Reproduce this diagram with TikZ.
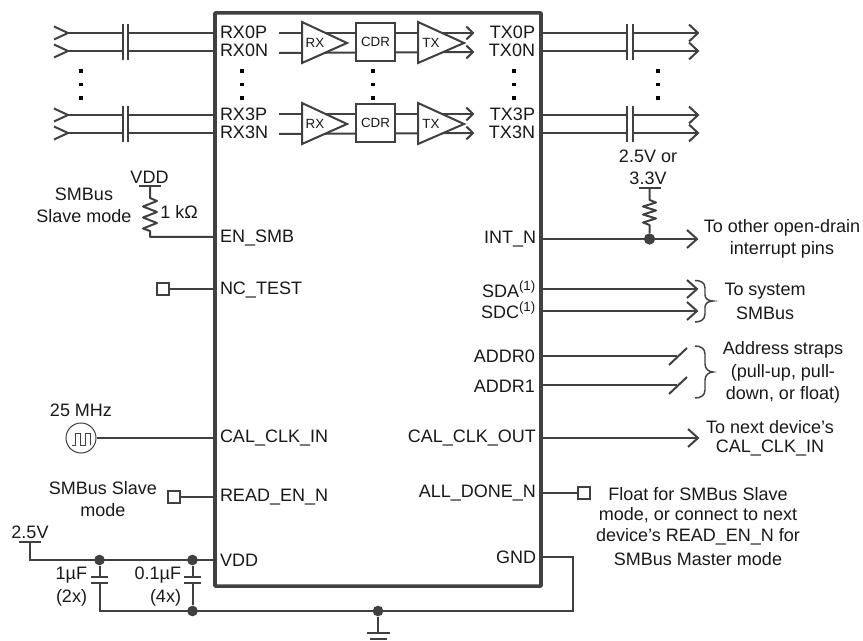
\documentclass[tikz,border=0pt]{standalone}
\usepackage{fontspec}
\setmainfont{Liberation Sans}
\definecolor{ln}{HTML}{404040}
\tikzset{
  wire/.style={draw=ln,line width=1.5pt,line join=miter},
  thin wire/.style={draw=ln,line width=1.1pt},
  chipbox/.style={draw=ln,line width=2.7pt,fill=white,rectangle,rounded corners=0.6pt,inner sep=0,minimum width=244.5pt,minimum height=430pt},
  txt/.style={inner sep=0,outer sep=0,font=\fontsize{13.5}{15}\selectfont,text=black!90,align=center},
  pinl/.style={txt,anchor=west},
  pinr/.style={txt,anchor=east},
  small/.style={inner sep=0,outer sep=0,font=\fontsize{10}{12}\selectfont,text=black!90},
  amp/.style={draw=ln,line width=1.5pt,fill=white,line join=miter},
  cdrbox/.style={draw=ln,line width=1.5pt,fill=white,rectangle,inner sep=0,minimum width=29.5pt,minimum height=28.5pt,font=\fontsize{10}{12}\selectfont,text=black!90},
  testpad/.style={draw=ln,line width=1.5pt,fill=white,rectangle,inner sep=0,minimum width=9pt,minimum height=9pt},
  junction/.style={circle,fill=ln,inner sep=0,minimum size=8pt},
  dotmark/.style={fill=black,rectangle,inner sep=0,minimum size=2.6pt},
  osc/.style={circle,draw=ln,line width=0.75pt,fill=white,inner sep=0,minimum size=22.5pt}
}
\begin{document}
\begin{tikzpicture}[x=0.75pt,y=-0.75pt]
\useasboundingbox (0,0) rectangle (863,641);
\node[chipbox] (chip) at (378,299.5) {};

% high speed rows
\foreach \n/\y/\t in {a/33/RX0P,b/51/RX0N,c/115/RX3P,d/133/RX3N}{
  \node[pinl] (pin\n) at (220,\y-0.5) {\t};
  \coordinate (in\n) at (68,\y);
  \coordinate (capl\n) at (123,\y);
  \coordinate (capr\n) at (128,\y);
  \draw[wire] (in\n) -- (capl\n);
  \draw[wire] (capr\n) -- (capr\n -| chip.west);
  \draw[wire] (capl\n) ++(0,-9) -- ++(0,18);
  \draw[wire] (capr\n) ++(0,-9) -- ++(0,18);
  \draw[wire] (in\n) ++(-14,-6.5) -- (in\n) -- ++(-14,6.5);
}
\foreach \n/\y/\t in {a/33/TX0P,b/51/TX0N,c/115/TX3P,d/133/TX3N}{
  \node[pinr] (tpin\n) at (535,\y-0.5) {\t};
  \coordinate (out\n) at (698,\y);
  \coordinate (ocapl\n) at (627,\y);
  \coordinate (ocapr\n) at (633,\y);
  \draw[wire] (ocapl\n -| chip.east) -- (ocapl\n);
  \draw[wire] (ocapr\n) -- (out\n);
  \draw[wire] (ocapl\n) ++(0,-9) -- ++(0,18);
  \draw[wire] (ocapr\n) ++(0,-9) -- ++(0,18);
  \draw[wire] (out\n) ++(-9,-8.5) -- (out\n) -- ++(-9,8.5);
}
% internal signal chain
\foreach \o/\s in {0/u,81/v}{
  \begin{scope}[yshift={-\o*0.75pt}]
    \coordinate (st\s) at (279,33);
    \coordinate (sb\s) at (279,53);
    \coordinate (et\s) at (473,33);
    \coordinate (eb\s) at (473,52);
    \draw[wire] (st\s) -- (et\s);
    \draw[wire] (sb\s) -- (eb\s);
    \draw[wire] (et\s) ++(-6.7,-6.5) -- (et\s) -- ++(-6.7,6.5);
    \draw[wire] (eb\s) ++(-6.7,-6.5) -- (eb\s) -- ++(-6.7,6.5);
    \draw[amp] (302,22) -- (347,43) -- (302,63) -- cycle;
    \node[cdrbox] (cdr\s) at (375.5,42) {CDR};
    \draw[amp] (418,22) -- (464,43) -- (418,63) -- cycle;
    % the arrows leave the TX triangle through its sloping side
    \draw[wire] (443,33) -- (et\s);
    \draw[wire] (443,52) -- (eb\s);
    \node[small] (rx\s) at (315,42.5) {RX};
    \node[small] (tx\s) at (431,42.5) {TX};
  \end{scope}
}
% ellipsis dots
\foreach \x in {81,242,373,514,658}{
  \foreach \y in {71,84.5,98}{
    \node[dotmark] at (\x,\y) {};
  }
}

% left pins
\node[pinl] (enpin) at (220,238) {EN\_SMB};
\node[pinl] (ncpin) at (220,290) {NC\_TEST};
\node[pinl] (calin) at (220,438) {CAL\_CLK\_IN};
\node[pinl] (readpin) at (220,497) {READ\_EN\_N};
\node[pinl] (vddpin) at (220,560) {VDD};

% EN_SMB pull-up
\node[txt] (vddlbl) at (149.5,177) {VDD};
\coordinate (vddbar) at (150,186);
\coordinate (enj) at (150,237);
\draw[wire] (vddbar) ++(-11,0) -- ++(22,0);
\draw[wire,line join=round] (vddbar) -- (150,198) -- (157,201) -- (143,206.5) -- (157,212) -- (143,217.5) -- (157,223) -- (143,228.5) -- (150,231) -- (enj) -- (enj -| chip.west);
\node[txt] (smb1) at (84,194) {SMBus};
\node[txt] (smb2) at (84,216) {Slave mode};
\node[txt] (kohm) at (179,212) {1 kΩ};

% NC_TEST
\node[testpad] (ncpad) at (163,289) {};
\draw[wire] (ncpad.east) -- (ncpad.east -| chip.west);

% clock
\node[txt] (mhz) at (81,410) {25 MHz};
\node[osc] (clk) at (81,438) {};
\draw[wire] (clk.east) -- (clk.east -| chip.west);
\draw[draw=ln,line width=0.75pt] (72,445) -- (75,445) -- (75,433) -- (80.5,433) -- (80.5,445) -- (85,445) -- (85,433) -- (90,433) -- (90,445);

% READ_EN_N
\node[testpad] (readpad) at (173.5,497) {};
\draw[wire] (readpad.east) -- (readpad.east -| chip.west);
\node[txt] (rd1) at (103,488) {SMBus Slave};
\node[txt] (rd2) at (103,510) {mode};

% power
\node[txt] (v25) at (30,532) {2.5V};
\coordinate (v25bar) at (30,542);
\coordinate (vcorner) at (30,560);
\draw[wire] (v25bar) ++(-11,0) -- ++(22,0);
\node[junction] (j1) at (99.5,560) {};
\node[junction] (j2) at (192.5,560) {};
\node[junction] (j3) at (192.5,611) {};
\node[junction] (j4) at (378,611) {};
\coordinate (gcorner1) at (573,557);
\coordinate (gcorner2) at (573,611);
\coordinate (gleft) at (99.5,611);
\draw[wire] (v25bar) -- (vcorner) -- (vcorner -| chip.west);
\coordinate (c1t) at (99.5,577);
\coordinate (c1b) at (99.5,583);
\coordinate (c2t) at (192.5,577);
\coordinate (c2b) at (192.5,583);
\draw[wire] (j1) -- (c1t);
\draw[wire] (c1b) -- (gleft) -- (gcorner2) -- (gcorner1) -- (gcorner1 -| chip.east);
\draw[wire] (j2) -- (c2t);
\draw[wire] (c2b) -- (j3);
\foreach \c in {c1t,c1b,c2t,c2b}{
  \draw[wire] (\c) ++(-8.5,0) -- ++(17,0);
}
\node[txt,anchor=east] (c1a) at (87,575) {1µF};
\node[txt,anchor=east] (c1c) at (87,598) {(2x)};
\node[txt,anchor=east] (c2a) at (181,575) {0.1µF};
\node[txt,anchor=east] (c2c) at (181,598) {(4x)};
% ground
\coordinate (g1) at (378,633);
\draw[wire] (j4) -- (g1);
\draw[wire] (367,633) -- (390,633);
\draw[wire] (370,638.5) -- (387,638.5);

% right pins
\node[pinr] (intpin) at (536,239) {INT\_N};
\node[pinr] (sdapin) at (536,289) {SDA\textsuperscript{\fontsize{10}{10}\selectfont(1)}};
\node[pinr] (sdcpin) at (536,310) {SDC\textsuperscript{\fontsize{10}{10}\selectfont(1)}};
\node[pinr] (a0pin) at (535,356) {ADDR0};
\node[pinr] (a1pin) at (535,386) {ADDR1};
\node[pinr] (coutpin) at (536,438) {CAL\_CLK\_OUT};
\node[pinr] (donepin) at (536,493) {ALL\_DONE\_N};
\node[pinr] (gndpin) at (536,557) {GND};

% INT_N
\node[txt] (p1) at (648,156) {2.5V or};
\node[txt] (p2) at (648,178) {3.3V};
\coordinate (pbar) at (649.5,188);
\node[junction,minimum size=8.5pt] (intj) at (649.5,239) {};
\coordinate (intend) at (697,239);
\draw[wire] (pbar) ++(-11,0) -- ++(22,0);
\draw[wire,line join=round] (pbar) -- (649.5,200) -- (656,202.5) -- (643,206.5) -- (656,210.5) -- (643,214.5) -- (656,218.5) -- (643,222.5) -- (649.5,225) -- (intj);
\draw[wire] (intend -| chip.east) -- (intend);
\draw[wire] (intend) ++(-10,-9) -- (intend) -- ++(-10,9);
\node[txt] (o1) at (782,228) {To other open-drain};
\node[txt] (o2) at (782,250) {interrupt pins};

% SMBus
\foreach \n/\y in {sda/289,sdc/311}{
  \coordinate (\n end) at (697,\y);
  \draw[wire] (\n end -| chip.east) -- (\n end);
  \draw[wire] (\n end) ++(-10,-9) -- (\n end) -- ++(-10,9);
}
\draw[thin wire] (695,280.5) .. controls (700,280.5) and (705,282) .. (705,288) -- (705,295) .. controls (705,299) and (709,301) .. (713,301) .. controls (709,301) and (705,303) .. (705,307) -- (705,314) .. controls (705,320) and (700,322) .. (695,322);
\node[txt] (s1) at (765,291) {To system};
\node[txt] (s2) at (765,313) {SMBus};

% address
\foreach \n/\y in {a/356,b/385}{
  \coordinate (ad\n) at (677,\y);
  \draw[wire] (ad\n -| chip.east) -- (ad\n);
  \draw[wire] (ad\n) ++(-8,9) -- ++(18,-17);
}
\draw[thin wire] (695,346) .. controls (700,346) and (705,348) .. (705,354) -- (705,364) .. controls (705,369) and (709,372) .. (713,372) .. controls (709,372) and (705,375) .. (705,380) -- (705,390) .. controls (705,396) and (700,398) .. (695,398);
\node[txt] (a1) at (783,350) {Address straps};
\node[txt] (a2) at (783,373) {(pull-up, pull-};
\node[txt] (a3) at (783,395) {down, or float)};

% CAL_CLK_OUT
\coordinate (cout) at (698,438);
\draw[wire] (cout -| chip.east) -- (cout);
\draw[wire] (cout) ++(-10,-9) -- (cout) -- ++(-10,9);
\node[txt] (n1) at (770,427) {To next device’s};
\node[txt] (n2) at (770,448) {CAL\_CLK\_IN};

% ALL_DONE_N
\node[testpad] (donepad) at (583.5,493) {};
\draw[wire] (donepad.west -| chip.east) -- (donepad.west);
\node[txt] (f1) at (698,494) {Float for SMBus Slave};
\node[txt] (f2) at (698,515) {mode, or connect to next};
\node[txt] (f3) at (698,537) {device’s READ\_EN\_N for};
\node[txt] (f4) at (698,559) {SMBus Master mode};
\end{tikzpicture}
\end{document}
